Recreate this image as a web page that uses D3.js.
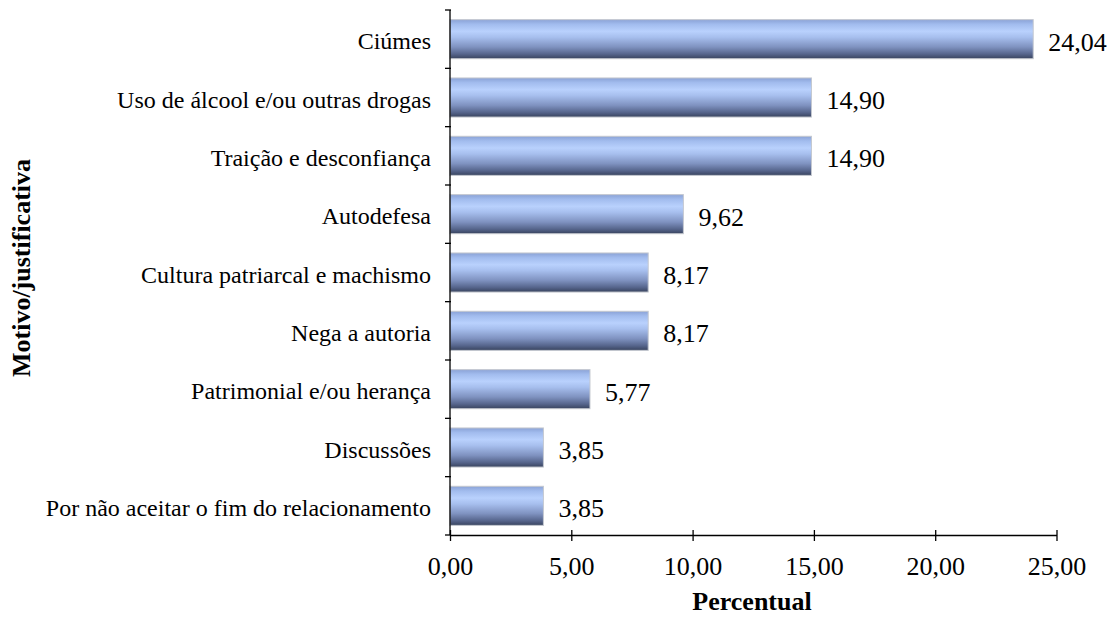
<!DOCTYPE html>
<html>
<head>
<meta charset="utf-8">
<script src="https://cdn.jsdelivr.net/npm/d3@7"></script>
<style>
  html, body { margin: 0; padding: 0; background: #fff; }
  svg { display: block; }
  text { font-family: "Liberation Serif", "Times New Roman", serif; fill: #000; }
</style>
</head>
<body>
<svg id="chart" width="1116" height="617"></svg>
<script>
// Motivos/justificativas e percentuais
const categories = [
  "Ciúmes",
  "Uso de álcool e/ou outras drogas",
  "Traição e desconfiança",
  "Autodefesa",
  "Cultura patriarcal e machismo",
  "Nega a autoria",
  "Patrimonial e/ou herança",
  "Discussões",
  "Por não aceitar o fim do relacionamento"
];
const values = [24.04, 14.90, 14.90, 9.62, 8.17, 8.17, 5.77, 3.85, 3.85];
const xTicks = [0, 5, 10, 15, 20, 25];

const fmt = v => v.toFixed(2).replace(".", ",");

const svg = d3.select("#chart");
const plotTop = 10, plotBottom = 535;

const x = d3.scaleLinear().domain([0, 25]).range([450, 1056.5]);
const y = d3.scaleBand().domain(categories)
  .range([plotTop, plotBottom]).paddingInner(0.33).paddingOuter(0.165);

// bar gradient
const defs = svg.append("defs");
const grad = defs.append("linearGradient").attr("id", "barGrad")
  .attr("x1", 0).attr("y1", 0).attr("x2", 0).attr("y2", 1);
[
  [0, "#8aa2d6"], [0.12, "#a2bcee"], [0.3, "#b9d1fd"], [0.45, "#a7bfee"],
  [0.7, "#7f92c0"], [0.88, "#56658c"], [1, "#38435e"]
].forEach(([o, c]) => grad.append("stop").attr("offset", o).attr("stop-color", c));

// bars
svg.append("g").selectAll("rect").data(values).join("rect")
  .attr("x", x(0))
  .attr("y", (d, i) => y(categories[i]))
  .attr("width", d => x(d) - x(0))
  .attr("height", y.bandwidth())
  .attr("fill", "url(#barGrad)")
  .attr("stroke", "#c4c8d0")
  .attr("stroke-width", 1);

// value labels
svg.append("g").selectAll("text").data(values).join("text")
  .attr("x", d => x(d) + 15)
  .attr("y", (d, i) => y(categories[i]) + y.bandwidth() / 2)
  .attr("dy", "0.44em")
  .attr("font-size", 26)
  .text(d => fmt(d));

// y axis with boundary ticks between categories
const yAxisG = svg.append("g");
yAxisG.append("line")
  .attr("x1", x(0)).attr("x2", x(0))
  .attr("y1", plotTop).attr("y2", plotBottom)
  .attr("stroke", "#000").attr("stroke-width", 1.3);
const bounds = d3.range(categories.length + 1)
  .map(i => plotTop + i * ((plotBottom - plotTop) / categories.length));
yAxisG.selectAll("line.tk").data(bounds).join("line").attr("class", "tk")
  .attr("x1", x(0) - 5).attr("x2", x(0) + 1)
  .attr("y1", d => d).attr("y2", d => d)
  .attr("stroke", "#000").attr("stroke-width", 1.3);

// category labels
svg.append("g").selectAll("text").data(categories).join("text")
  .attr("x", 431)
  .attr("y", d => y(d) + y.bandwidth() / 2)
  .attr("dy", "0.42em")
  .attr("text-anchor", "end")
  .attr("font-size", 24)
  .text(d => d);

// x axis
const xAxis = d3.axisBottom(x).tickValues(xTicks).tickFormat(fmt)
  .tickSize(6).tickSizeOuter(0);
const xg = svg.append("g").attr("transform", `translate(0,${plotBottom})`).call(xAxis);
xg.select(".domain").attr("stroke", "#000").attr("stroke-width", 1.3);
xg.selectAll(".tick line").attr("stroke", "#000").attr("stroke-width", 1.3).attr("y1", -5).attr("y2", 6);
xg.selectAll(".tick text")
  .attr("font-family", "Liberation Serif, Times New Roman, serif")
  .attr("font-size", 26).attr("fill", "#000")
  .attr("y", 40).attr("dy", 0);

// axis titles
svg.append("text")
  .attr("x", 752).attr("y", 610)
  .attr("text-anchor", "middle")
  .attr("font-size", 26).attr("font-weight", "bold")
  .text("Percentual");

svg.append("text")
  .attr("transform", "translate(30,268) rotate(-90)")
  .attr("text-anchor", "middle")
  .attr("font-size", 26).attr("font-weight", "bold")
  .text("Motivo/justificativa");
</script>
</body>
</html>
